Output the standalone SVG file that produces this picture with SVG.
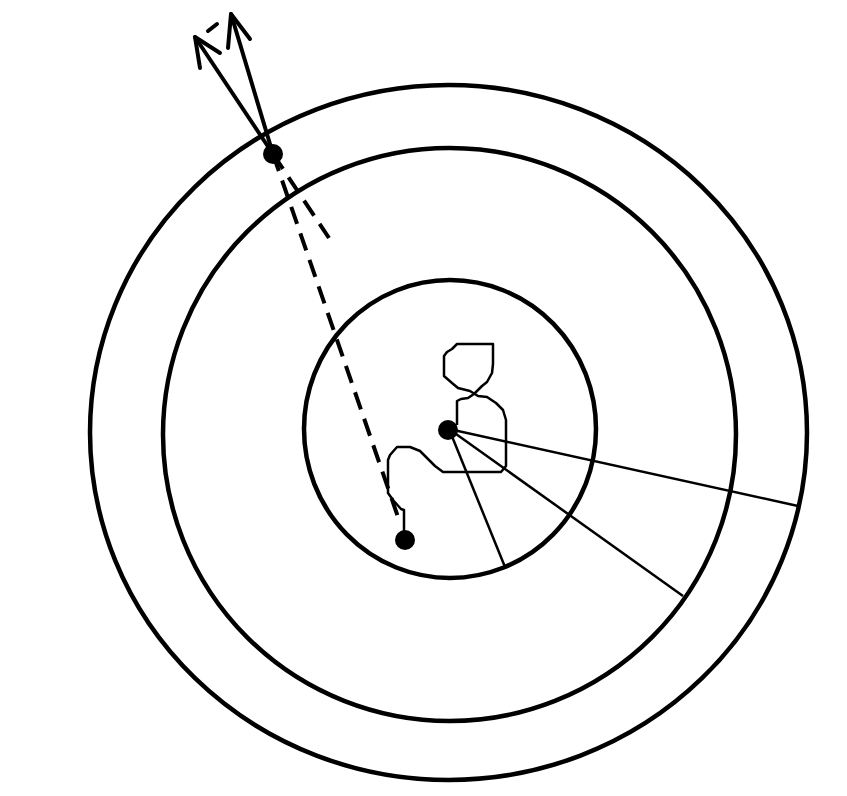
<svg xmlns="http://www.w3.org/2000/svg" width="847" height="796" viewBox="0 0 847 796">
<style>
.ring{fill:none;stroke:#000;stroke-width:4.5}
.ray{fill:none;stroke:#000;stroke-width:2.5}
.dash{fill:none;stroke:#000;stroke-width:4;stroke-dasharray:18 10}
.arr{fill:none;stroke:#000;stroke-width:4;stroke-linecap:round;stroke-linejoin:round}
.path{fill:none;stroke:#000;stroke-width:2.5;stroke-linejoin:round}
.dot{fill:#000}
</style>
<rect width="847" height="796" fill="#fff"/>
<g id="rings">
<ellipse class="ring" cx="448.5" cy="432.5" rx="358.5" ry="347.5"/>
<ellipse class="ring" cx="449.5" cy="434.5" rx="286.5" ry="286.5"/>
<ellipse class="ring" cx="450" cy="429" rx="146" ry="149"/>
</g>
<g id="connectors">
<line class="ray" x1="449" y1="429" x2="798" y2="506"/>
<line class="ray" x1="449" y1="429" x2="683" y2="596"/>
<line class="ray" x1="449" y1="429" x2="505" y2="567"/>
<line class="dash" x1="273" y1="154" x2="399" y2="520"/>
<line class="dash" x1="273" y1="154" x2="329" y2="238"/>
<polyline class="path" points="457,425 457,401 461,399 468,398 474,394 478,390 482,386 487,382 492,373 493,364 493,344 457,344 452,349 447,352 444,356 444,376 452,383 458,388 470,391 478,396 487,397 496,403 503,410 506,420 506,466 501,472 443,472 435,466 420,451 410,447 397,447 390,455 388,460 388,493 393,500 401,509 404,510 404,532"/>
<line class="arr" x1="273" y1="154" x2="231" y2="14"/>
<polyline class="arr" points="250,39 231,14 228,48"/>
<line class="arr" x1="273" y1="154" x2="195" y2="37"/>
<polyline class="arr" points="220,53 195,37 200,68"/>
<line class="arr" x1="208" y1="31" x2="217" y2="24"/>
</g>
<g id="node-center"><circle class="dot" cx="448" cy="430" r="10"/></g>
<g id="node-lower"><circle class="dot" cx="405" cy="540" r="10"/></g>
<g id="node-upper"><circle class="dot" cx="273" cy="154" r="10"/></g>
</svg>
